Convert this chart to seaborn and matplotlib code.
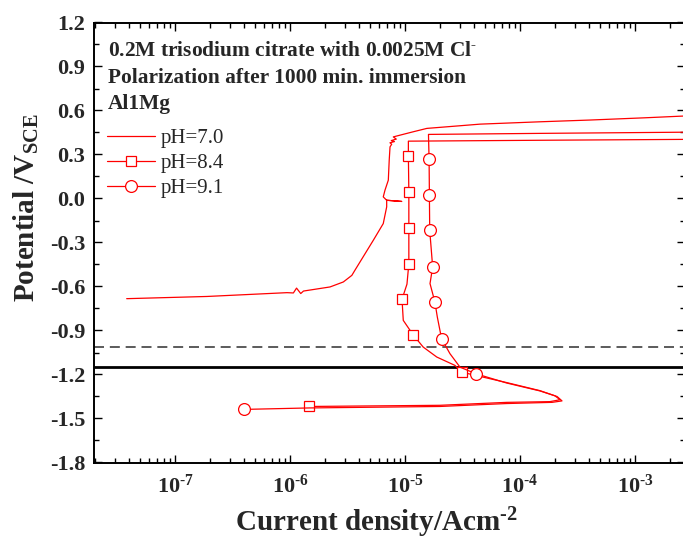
import numpy as np
import pandas as pd
import matplotlib
matplotlib.use("Agg")
import matplotlib.pyplot as plt
import seaborn as sns
from matplotlib.ticker import LogLocator, MultipleLocator, FuncFormatter, NullFormatter

# ---------------- data (current density A/cm^2, potential V vs SCE) ----------------
ph70_current = [3.80e-8, 1.89e-7, 9.42e-7, 1.07e-6, 1.14e-6, 1.24e-6, 1.31e-6, 2.23e-6,
                2.91e-6, 3.45e-6, 3.67e-6, 4.06e-6, 5.30e-6, 6.47e-6, 6.93e-6, 6.93e-6,
                9.35e-6, 6.93e-6, 6.47e-6, 6.70e-6, 7.16e-6, 7.29e-6, 7.41e-6, 7.66e-6,
                7.40e-6, 8.10e-6, 7.60e-6, 8.40e-6, 7.91e-6, 9.06e-6, 1.18e-5, 1.55e-5,
                3.01e-5, 4.49e-5, 1.49e-4, 4.07e-4, 1.20e-3, 2.61e-3]
ph70_potential = [-0.683, -0.668, -0.642, -0.644, -0.611, -0.648, -0.631, -0.603,
                  -0.569, -0.524, -0.489, -0.433, -0.285, -0.171, -0.057, -0.012,
                  -0.020, -0.012, 0.011, 0.057, 0.125, 0.261, 0.352, 0.370,
                  0.380, 0.388, 0.395, 0.405, 0.420, 0.432, 0.455, 0.478,
                  0.496, 0.507, 0.523, 0.535, 0.550, 0.562]

ph84_current = [1.47e-6, 2.01e-5, 7.65e-5, 1.82e-4, 2.23e-4, 2.01e-4, 1.49e-4, 7.65e-5,
                3.11e-5, 2.72e-5, 1.89e-5, 1.44e-5, 1.18e-5, 9.66e-6, 9.42e-6, 1.04e-5,
                1.08e-5, 1.08e-5, 1.08e-5, 1.07e-5, 1.07e-5, 1.49e-4, 2.61e-3]
ph84_potential = [-1.418, -1.410, -1.390, -1.385, -1.372, -1.345, -1.310, -1.255,
                  -1.184, -1.138, -1.081, -1.013, -0.931, -0.831, -0.687, -0.584,
                  -0.444, -0.198, 0.045, 0.289, 0.391, 0.397, 0.403]
ph84_marks = [0, 8, 12, 14, 16, 17, 18, 19]

ph91_current = [3.98e-7, 1.47e-6, 2.01e-5, 7.65e-5, 1.90e-4, 2.32e-4, 2.10e-4, 1.49e-4,
                7.65e-5, 4.14e-5, 3.01e-5, 2.46e-5, 2.08e-5, 1.91e-5, 1.82e-5, 1.65e-5,
                1.74e-5, 1.64e-5, 1.63e-5, 1.62e-5, 1.60e-5, 1.49e-4, 2.61e-3]
ph91_potential = [-1.438, -1.428, -1.418, -1.398, -1.390, -1.380, -1.350, -1.312,
                  -1.258, -1.195, -1.150, -1.058, -0.956, -0.808, -0.706, -0.580,
                  -0.467, -0.216, 0.022, 0.266, 0.437, 0.444, 0.452]
ph91_marks = [0, 9, 12, 14, 16, 17, 18, 19]

series_labels = ["pH=7.0", "pH=8.4", "pH=9.1"]
hline_solid = -1.15
hline_dashed = -1.01

annotation_lines = [r"0.2M trisodium citrate with 0.0025M Cl$^{\text{-}}$",
                    "Polarization after 1000 min. immersion",
                    "Al1Mg"]

# ---------------- style ----------------
sns.set_style("ticks")
plt.rcParams["font.family"] = ["Liberation Serif", "DejaVu Serif"]
plt.rcParams["mathtext.fontset"] = "custom"
plt.rcParams["mathtext.rm"] = "Liberation Serif:bold"
plt.rcParams["mathtext.bf"] = "Liberation Serif:bold"
plt.rcParams["mathtext.it"] = "Liberation Serif:bold:italic"

W, H = 683, 546
fig = plt.figure(figsize=(W / 100, H / 100), dpi=100)
left_px, right_px, top_px, bot_px = 93.5, 685, 22.5, 462.5
ax = fig.add_axes([left_px / W, 1 - bot_px / H, (right_px - left_px) / W, (bot_px - top_px) / H])
ax.set_xscale("log")

red = "#FF0000"
ax.axhline(hline_solid, color="black", lw=2.0, zorder=1)
ax.axhline(hline_dashed, color="#404040", lw=1.2, ls=(0, (6, 3.5)), zorder=1)

df70 = pd.DataFrame({"i": ph70_current, "E": ph70_potential})
df84 = pd.DataFrame({"i": ph84_current, "E": ph84_potential})
df91 = pd.DataFrame({"i": ph91_current, "E": ph91_potential})

sns.lineplot(data=df70, x="i", y="E", sort=False, estimator=None, ax=ax,
             color=red, lw=0.9, label=series_labels[0], zorder=3)
sns.lineplot(data=df84, x="i", y="E", sort=False, estimator=None, ax=ax,
             color=red, lw=0.9, marker="s", markersize=7.5, markerfacecolor="white",
             markeredgecolor=red, markeredgewidth=0.9, markevery=ph84_marks,
             label=series_labels[1], zorder=3)
sns.lineplot(data=df91, x="i", y="E", sort=False, estimator=None, ax=ax,
             color=red, lw=0.9, marker="o", markersize=8.5, markerfacecolor="white",
             markeredgecolor=red, markeredgewidth=0.9, markevery=ph91_marks,
             label=series_labels[2], zorder=3)

ax.set_xlim(10 ** (-7 - (175 - left_px) / 115), 10 ** (-7 + (right_px - 175) / 115))
ax.set_ylim(-1.8, 1.2)

ax.yaxis.set_major_locator(MultipleLocator(0.3))
ax.yaxis.set_minor_locator(MultipleLocator(0.15))
ax.yaxis.set_major_formatter(FuncFormatter(lambda v, p: "0.0" if abs(v) < 1e-9 else f"{v:.1f}"))
ax.xaxis.set_major_locator(LogLocator(base=10, numticks=20))
ax.xaxis.set_minor_locator(LogLocator(base=10, subs=np.arange(2, 10), numticks=20))
ax.xaxis.set_minor_formatter(NullFormatter())
ax.xaxis.set_major_formatter(FuncFormatter(
    lambda v, p: r"$10^{\text{-}%d}$" % abs(int(round(np.log10(v))))))

ax.tick_params(which="both", direction="in", top=True, right=True, width=1.0, color="black")
ax.tick_params(which="major", length=6, labelsize=16)
ax.tick_params(axis="x", which="major", pad=9)
ax.tick_params(axis="y", which="major", pad=6)
ax.tick_params(which="minor", length=3.5)
for lab in ax.get_yticklabels():
    lab.set_fontweight("bold")
for side in ["left", "bottom", "top", "right"]:
    ax.spines[side].set_linewidth(1.4)
    ax.spines[side].set_color("black")

ax.set_xlabel(r"Current density/Acm$^{\text{-}2}$", fontsize=21, fontweight="bold")
ax.set_ylabel(r"Potential /V$_{\text{SCE}}$", fontsize=21, fontweight="bold")
ax.xaxis.set_label_coords((376 - left_px) / (right_px - left_px), (bot_px - 505) / (bot_px - top_px))
ax.yaxis.set_label_coords((41 - left_px) / (right_px - left_px), (bot_px - 208) / (bot_px - top_px))

for txt, base in zip(annotation_lines, [56, 83, 109]):
    fig.text(108 / W, 1 - base / H, txt, fontsize=15.4, fontweight="bold", ha="left", va="baseline")

ax.legend(loc="upper left", bbox_to_anchor=(107 / W, 1 - 128.5 / H), bbox_transform=fig.transFigure,
          frameon=False, borderpad=0, borderaxespad=0, handlelength=2.3, handletextpad=0.3,
          labelspacing=0.26, fontsize=15)

fig.savefig("out.png", dpi=100)
